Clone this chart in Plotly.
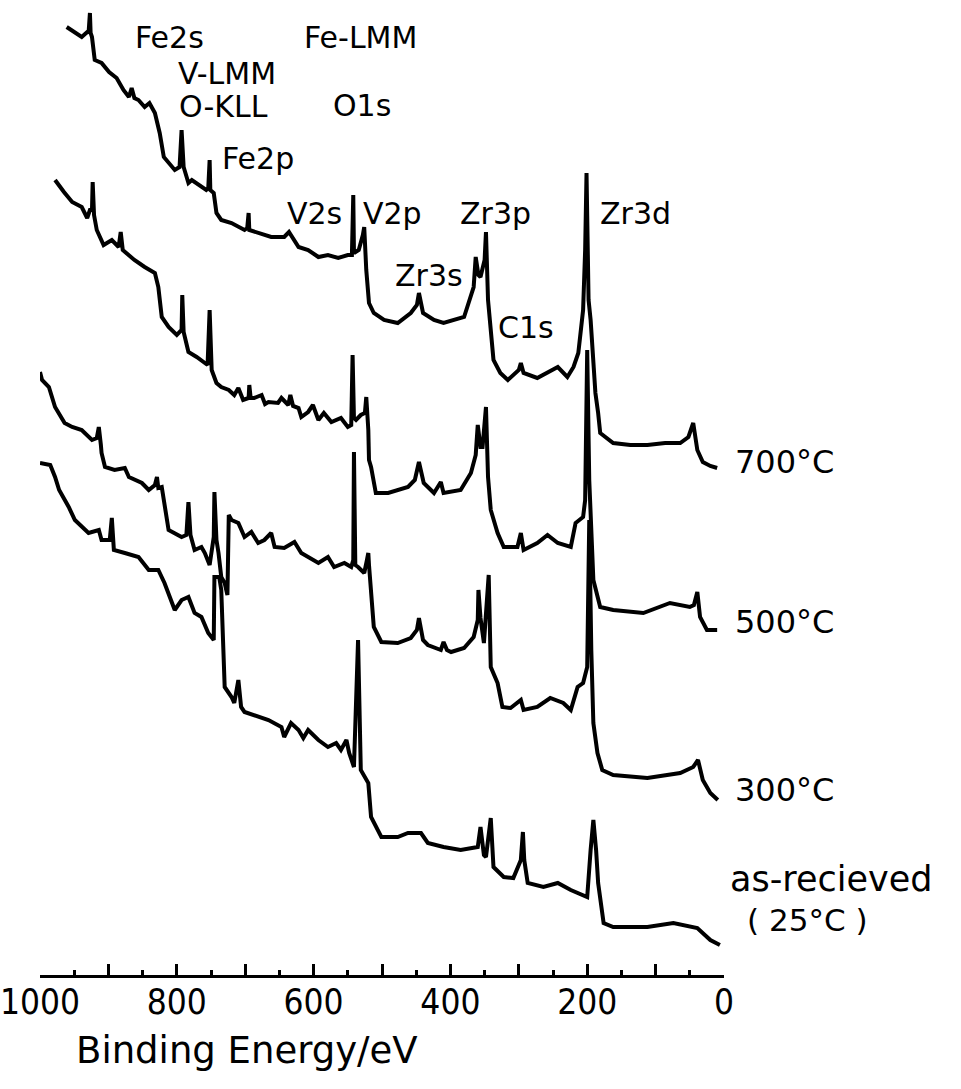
import plotly.graph_objects as go

# XPS survey spectra of the alloy after heating; binding energy in eV,
# intensity in arbitrary units (curves offset vertically for clarity)

be_700 = [961, 949, 939, 931, 929, 927, 926, 924, 920, 910, 899, 888, 878, 870, 866, 862,
          856, 847, 840, 832, 825, 819, 812, 803, 796, 793, 790, 783, 778, 764, 757, 754,
          752, 751, 746, 742, 735, 720, 701, 697, 695, 694, 681, 662, 643, 636, 622, 608,
          593, 579, 564, 550, 544, 542, 541, 534, 528, 526, 523, 519, 512, 497, 477, 458,
          449, 446, 440, 424, 410, 380, 366, 363, 359, 356, 350, 348, 345, 341, 337, 327,
          316, 300, 297, 293, 273, 243, 229, 220, 213, 206, 203, 201, 198, 195, 191, 188,
          184, 181, 162, 137, 112, 86, 64, 52, 45, 39, 31, 20, 10]
int_700 = [948, 942, 938, 943, 942, 962, 942, 938, 915, 912, 903, 897, 885, 878, 887, 877,
           875, 868, 872, 862, 842, 818, 812, 805, 808, 845, 808, 792, 795, 788, 785, 787,
           815, 785, 782, 762, 755, 752, 745, 747, 762, 745, 742, 738, 738, 743, 728, 725,
           718, 720, 717, 720, 720, 780, 722, 725, 740, 748, 705, 672, 662, 655, 652, 662,
           670, 682, 662, 655, 652, 658, 688, 718, 700, 698, 715, 743, 675, 642, 615, 602,
           595, 605, 612, 602, 597, 608, 598, 608, 622, 665, 725, 802, 675, 655, 615, 582,
           562, 542, 532, 530, 530, 532, 532, 538, 552, 525, 513, 509, 507]

be_500 = [978, 968, 965, 953, 939, 931, 927, 924, 923, 921, 917, 907, 895, 885, 882, 879,
          876, 862, 847, 832, 827, 822, 812, 800, 793, 792, 790, 783, 771, 759, 755, 752,
          749, 742, 735, 724, 716, 710, 703, 695, 694, 692, 687, 676, 671, 666, 652, 647,
          637, 634, 630, 622, 618, 608, 601, 593, 585, 574, 560, 550, 545, 543, 541, 538,
          531, 525, 523, 520, 519, 516, 509, 491, 477, 462, 452, 446, 439, 424, 414, 410,
          385, 370, 363, 360, 356, 353, 348, 345, 341, 331, 322, 302, 297, 293, 273, 258,
          243, 224, 217, 206, 203, 200, 197, 194, 191, 181, 162, 118, 79, 50, 44, 39,
          35, 25, 10]
int_500 = [795, 785, 783, 773, 768, 757, 765, 765, 793, 760, 745, 730, 735, 728, 743, 725,
           723, 715, 708, 702, 688, 658, 648, 640, 645, 680, 643, 623, 618, 612, 610, 665,
           605, 592, 588, 585, 580, 587, 575, 577, 590, 577, 577, 580, 571, 573, 572, 577,
           570, 580, 569, 567, 558, 563, 570, 555, 562, 553, 557, 548, 550, 620, 557, 555,
           560, 562, 578, 545, 515, 508, 482, 482, 485, 488, 495, 513, 492, 482, 493, 482,
           485, 502, 520, 550, 528, 528, 568, 498, 465, 442, 428, 428, 442, 425, 432, 440,
           432, 428, 452, 458, 475, 625, 495, 435, 395, 368, 365, 362, 372, 368, 370, 383,
           358, 345, 345]

be_300 = [1000, 997, 987, 978, 964, 953, 939, 924, 917, 914, 911, 910, 905, 891, 876, 870,
          851, 841, 832, 829, 827, 822, 812, 793, 786, 783, 780, 774, 764, 759, 752, 746,
          745, 742, 739, 735, 730, 726, 724, 720, 710, 701, 691, 681, 672, 662, 657, 643,
          628, 618, 593, 579, 570, 555, 545, 542, 541, 539, 535, 526, 522, 520, 519, 516,
          512, 501, 477, 458, 449, 446, 440, 433, 414, 410, 405, 399, 380, 366, 360, 359,
          356, 351, 344, 341, 331, 324, 312, 297, 293, 273, 254, 235, 224, 214, 206, 200,
          197, 194, 191, 185, 178, 162, 112, 64, 45, 38, 31, 20, 9]
int_300 = [603, 595, 588, 568, 552, 548, 545, 535, 537, 548, 530, 522, 508, 505, 507, 498,
           492, 485, 490, 498, 487, 488, 445, 438, 440, 473, 440, 425, 428, 422, 410, 438,
           483, 435, 422, 398, 392, 380, 460, 455, 452, 438, 443, 432, 435, 442, 428, 427,
           433, 422, 412, 418, 408, 412, 408, 415, 523, 410, 408, 402, 415, 422, 410, 385,
           348, 333, 332, 337, 345, 357, 335, 330, 325, 333, 325, 323, 327, 338, 355, 385,
           357, 332, 400, 308, 292, 268, 267, 275, 265, 268, 277, 272, 265, 288, 292, 308,
           455, 325, 252, 222, 205, 200, 197, 202, 208, 215, 195, 182, 175]

be_25 = [1000, 985, 978, 972, 958, 949, 929, 914, 910, 898, 895, 892, 876, 856, 841, 827,
         818, 803, 793, 783, 774, 764, 754, 746, 745, 738, 735, 732, 730, 720, 716, 710,
         706, 701, 687, 666, 647, 643, 633, 622, 615, 608, 593, 579, 567, 560, 552, 548,
         541, 535, 531, 520, 516, 501, 477, 462, 443, 433, 410, 385, 360, 356, 351, 348,
         341, 337, 322, 308, 297, 294, 292, 287, 264, 243, 224, 200, 195, 191, 187, 184,
         176, 162, 112, 74, 39, 20, 6]
int_25 = [512, 510, 498, 485, 468, 455, 442, 445, 435, 435, 457, 425, 422, 418, 405, 405,
          392, 365, 375, 378, 362, 358, 342, 335, 398, 398, 385, 325, 288, 278, 272, 295,
          268, 263, 260, 255, 248, 238, 252, 245, 237, 245, 235, 228, 232, 225, 235, 222,
          208, 335, 205, 192, 158, 138, 138, 142, 142, 132, 128, 125, 128, 148, 120, 118,
          157, 108, 98, 97, 115, 143, 115, 92, 88, 92, 85, 78, 125, 155, 125, 92,
          52, 48, 48, 52, 47, 35, 30]

series = [(be_700, int_700), (be_500, int_500), (be_300, int_300), (be_25, int_25)]

# peak assignments: (text, binding energy, intensity)
peak_labels = [
    ("Fe2s", 810, 938), ("Fe-LMM", 532, 938), ("V-LMM", 726, 902),
    ("O-KLL", 732, 869), ("O1s", 529, 870), ("Fe2p", 682, 817),
    ("V2s", 599, 762), ("V2p", 485, 762), ("Zr3p", 334, 762),
    ("Zr3d", 130, 762), ("Zr3s", 431, 700), ("C1s", 289, 648),
]
# sample treatment labels to the right of each curve (paper coordinates)
temp_labels = [
    ("700°C", 1.089, 0.526, 32), ("500°C", 1.089, 0.362, 32),
    ("300°C", 1.089, 0.190, 32), ("as-recieved", 1.156, 0.0985, 35),
    ("( 25°C )", 1.122, 0.0560, 31),
]

tick_vals = list(range(0, 1001, 100))
tick_text = [str(v) if v % 200 == 0 else "" for v in tick_vals]

LABEL_FONT = "DejaVu Sans, sans-serif"

fig = go.Figure()
for be, inten in series:
    fig.add_trace(go.Scatter(
        x=be, y=inten, mode="lines",
        line=dict(color="black", width=4),
        showlegend=False, hoverinfo="skip",
    ))

annotations = []
for text, x, y in peak_labels:
    annotations.append(dict(x=x, y=y, xref="x", yref="y", text=text, showarrow=False,
                            xanchor="center", yanchor="middle",
                            font=dict(family=LABEL_FONT, size=30, color="black")))
for text, x, y, size in temp_labels:
    annotations.append(dict(x=x, y=y, xref="paper", yref="paper", text=text,
                            showarrow=False, xanchor="center", yanchor="middle",
                            font=dict(family=LABEL_FONT, size=size, color="black")))
annotations.append(dict(x=0.302, y=-0.077, xref="paper", yref="paper",
                        text="Binding Energy/eV", showarrow=False,
                        xanchor="center", yanchor="middle",
                        font=dict(family=LABEL_FONT, size=37, color="black")))

fig.update_layout(
    width=961, height=1089, autosize=False,
    margin=dict(l=38, r=237, t=0, b=114, pad=0),
    paper_bgcolor="white", plot_bgcolor="white",
    annotations=annotations,
    xaxis=dict(
        range=[1000, 0], showgrid=False, zeroline=False,
        showline=True, linecolor="black", linewidth=3,
        ticks="inside", ticklen=11, tickwidth=2.5, tickcolor="black",
        tickmode="array", tickvals=tick_vals, ticktext=tick_text,
        tickfont=dict(family="DejaVu Sans Condensed, DejaVu Sans, sans-serif",
                      size=35, color="black"),
        ticklabeloverflow="allow",
        ticklabelstandoff=-6,
        minor=dict(ticks="inside", dtick=50, tick0=0, ticklen=5, tickwidth=2.5,
                   tickcolor="black", showgrid=False),
    ),
    yaxis=dict(range=[0, 975], visible=False, showgrid=False, zeroline=False),
)

fig.write_html("out.html")
